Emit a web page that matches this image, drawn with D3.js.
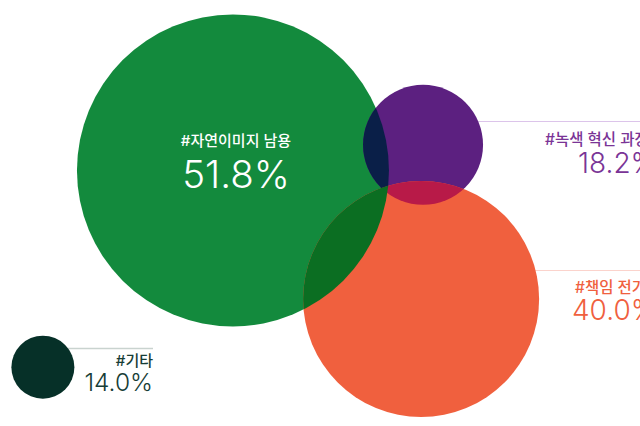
<!DOCTYPE html>
<html><head><meta charset="utf-8">
<script src="https://cdn.jsdelivr.net/npm/d3@7"></script>
<style>
html,body{margin:0;padding:0;background:#fff;overflow:hidden;}
svg{display:block;}
text{font-family:"Inter","Noto Sans CJK KR","Noto Sans",sans-serif;}
</style></head>
<body>
<script>
// ---- data ----
const categories = ["#자연이미지 남용", "#녹색 혁신 과장", "#책임 전가", "#기타"];
const values = [51.8, 18.2, 40.0, 14.0];
const valueLabels = ["51.8%", "18.2%", "40.0%", "14.0%"];

// ---- layout / style ----
const W = 640, H = 426;
const fills = ["#138a3d", "#5c2080", "#f0603e", "#063028"];
const textColors = ["#ffffff", "#7a3496", "#f0603e", "#173d36"];
const lineColors = [null, "#dcc4ea", "#fbd3cc", "#c9d3cf"];
// bubble centres in layout units (0..100 of width / height)
const cx = [36.4, 66.1, 65.8, 6.7];
const cy = [40.0, 34.0, 70.2, 86.2];
const overlapPairs = [[0, 1, "#0a1f48"], [1, 2, "#b81a48"], [0, 2, "#0b6e22"]];

const x = d3.scaleLinear().domain([0, 100]).range([0, W]);
const y = d3.scaleLinear().domain([0, 100]).range([0, H]);
const r = d3.scaleLinear().domain([14, 18.2, 40, 51.8]).range([31.5, 60, 118, 156]);

const data = categories.map((c, i) => ({
  i, cat: c, v: values[i], lab: valueLabels[i],
  x: x(cx[i]), y: y(cy[i]), r: r(values[i])
}));

const svg = d3.select("body").append("svg").attr("width", W).attr("height", H);
const defs = svg.append("defs");
data.forEach(d => {
  defs.append("clipPath").attr("id", "clip" + d.i)
    .append("circle").attr("cx", d.x).attr("cy", d.y).attr("r", d.r);
});

// leader lines
const lines = svg.append("g");
lines.append("line").attr("x1", data[1].x + data[1].r * 0.8).attr("x2", W)
  .attr("y1", 121.5).attr("y2", 121.5).attr("stroke", lineColors[1]).attr("stroke-width", 1.2);
lines.append("line").attr("x1", data[2].x + data[2].r * 0.8).attr("x2", W)
  .attr("y1", 270.5).attr("y2", 270.5).attr("stroke", lineColors[2]).attr("stroke-width", 1.2);
lines.append("line").attr("x1", data[3].x + data[3].r * 0.6).attr("x2", 153)
  .attr("y1", 348.5).attr("y2", 348.5).attr("stroke", lineColors[3]).attr("stroke-width", 1.5);

svg.append("g").selectAll("circle").data(data).join("circle")
  .attr("cx", d => d.x).attr("cy", d => d.y).attr("r", d => d.r)
  .attr("fill", d => fills[d.i]);

// overlaps
const ov = svg.append("g");
overlapPairs.forEach(([a, b, col]) => {
  ov.append("circle").attr("cx", data[b].x).attr("cy", data[b].y).attr("r", data[b].r)
    .attr("clip-path", `url(#clip${a})`).attr("fill", col);
});

// labels
const lab = svg.append("g");
function label(i, ax1, ax2, anchor, y1, s1, y2, s2) {
  lab.append("text").attr("x", ax1).attr("y", y1).attr("text-anchor", anchor)
    .attr("font-size", s1).attr("font-weight", 500).attr("fill", textColors[i]).text(categories[i]);
  lab.append("text").attr("x", ax2).attr("y", y2).attr("text-anchor", anchor)
    .attr("font-size", s2).attr("font-weight", 300).attr("fill", textColors[i]).text(valueLabels[i]);
}
label(0, data[0].x + 3, data[0].x + 3, "middle", 146, 15, 188, 38.5);
label(1, 545, 578, "start", 145, 15.5, 173, 28);
label(2, 575, 572, "start", 293, 15.5, 320, 28);
label(3, 153, 153, "end", 366, 15, 391, 24.5);
</script>
</body></html>
